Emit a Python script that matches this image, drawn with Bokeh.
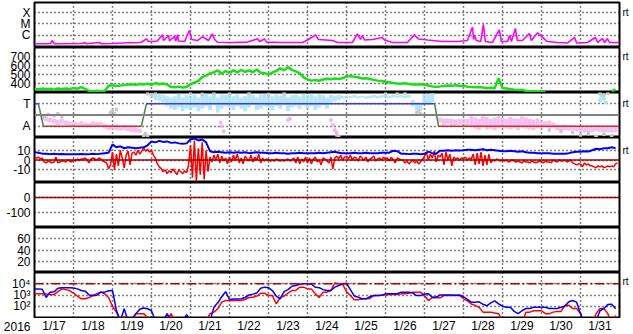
import numpy as np
from bokeh.plotting import figure
from bokeh.layouts import column
from bokeh.models import Range1d, FixedTicker, Span, LinearAxis, LogAxis
from bokeh.core.properties import value
from bokeh.embed import file_html
from bokeh.resources import INLINE

nan = float("nan")

# ---------------- axes / labels ----------------
DAY_LABELS = ["1/17", "1/18", "1/19", "1/20", "1/21", "1/22", "1/23", "1/24",
              "1/25", "1/26", "1/27", "1/28", "1/29", "1/30", "1/31"]
DAY_CENTERS = [0.5, 1.5, 2.5, 3.5, 4.5, 5.5, 6.5, 7.5, 8.5, 9.5, 10.5, 11.5, 12.5, 13.5, 14.5]
DAY_BOUNDS = [1, 2, 3, 4, 5, 6, 7, 8, 9, 10, 11, 12, 13, 14]
YEAR_LABEL = "2016"

XRAY_TICKS = [1e-6, 1e-5, 1e-4]
XRAY_LABELS = ["C", "M", "X"]
SPEED_TICKS = [400, 500, 600, 700]
SPEED_LABELS = ["400", "500", "600", "700"]
SECTOR_TICKS = [90, 270]
SECTOR_LABELS = ["A", "T"]
BZ_TICKS = [-10, 0, 10]
BZ_LABELS = ["-10", "0", "10"]
DST_TICKS = [-100, 0]
DST_LABELS = ["-100", "0"]
KP_TICKS = [20, 40, 60]
KP_LABELS = ["20", "40", "60"]
FLUX_TICKS = [100, 1000, 10000]
FLUX_LABELS = ["10\u00b2", "10\u00b3", "10\u2074"]
RT_TEXT = "rt"

# ---------------- data (time in days since 2016-01-17 00:00) ----------------
xray_t = [0, 0.33, 0.41, 0.46, 0.51, 1.23, 1.28, 1.33, 1.67, 1.72, 2.0, 2.26, 2.72, 2.79, 2.87,
          2.92, 3.03, 3.15, 3.28, 3.31, 3.44, 3.46, 3.59, 3.62, 3.67, 3.69, 3.85, 3.97, 4.03, 4.18,
          4.31, 4.38, 4.46, 4.56, 4.62, 4.69, 5.08, 5.46, 5.72, 5.77, 5.90, 5.95, 6.36, 6.87, 7.0,
          7.21, 7.28, 7.64, 7.77, 8.15, 8.28, 8.36, 8.41, 8.46, 8.67, 8.92, 8.97, 9.18, 9.56, 9.74,
          9.85, 10.08, 10.46, 10.85, 11.10, 11.23, 11.26, 11.28, 11.33, 11.44, 11.51, 11.56, 11.74,
          11.92, 11.97, 12.13, 12.18, 12.23, 12.33, 12.38, 12.51, 12.69, 12.74, 12.90, 13.03, 13.15,
          13.41, 13.67, 13.85, 13.90, 14.18, 14.38, 14.44, 14.56, 14.62, 14.69, 14.74, 15.0]
xray_flux = [1.7e-7, 1.7e-7, 1.8e-7, 3.3e-7, 1.7e-7, 1.8e-7, 2.2e-7, 1.7e-7, 2.2e-7, 1.7e-7,
             1.8e-7, 2.0e-7, 2.2e-7, 3.0e-7, 4.7e-7, 2.7e-7, 2.7e-7, 3.0e-7, 1.1e-6, 3.3e-7,
             9.3e-7, 3.0e-7, 8.0e-7, 3.0e-7, 1.1e-6, 3.0e-7, 2.7e-7, 2.6e-6, 4.1e-7, 3.3e-7,
             7.5e-7, 5.0e-7, 3.3e-7, 1.3e-6, 4.1e-7, 2.3e-7, 2.2e-7, 2.4e-7, 4.7e-7, 2.7e-7,
             4.5e-7, 2.4e-7, 2.2e-7, 2.2e-7, 3.7e-7, 1.05e-6, 4.1e-7, 3.3e-7, 2.2e-7, 2.2e-7,
             1.3e-6, 4.1e-7, 9.3e-7, 3.7e-7, 4.1e-7, 6.2e-7, 3.7e-7, 2.2e-7, 2.2e-7, 1.05e-6,
             4.5e-7, 3.7e-7, 2.7e-7, 2.7e-7, 3.3e-7, 5.3e-6, 4.1e-7, 9.3e-7, 3.3e-7, 2.7e-7,
             9.0e-6, 2.7e-7, 2.2e-7, 3.0e-6, 2.7e-7, 2.7e-7, 9.3e-7, 2.7e-7, 3.8e-6, 3.3e-7,
             3.3e-7, 1.4e-6, 3.3e-7, 1.6e-6, 6.2e-7, 2.7e-7, 2.2e-7, 2.0e-7, 6.2e-7, 2.0e-7,
             2.2e-7, 6.2e-7, 2.2e-7, 5.0e-7, 2.2e-7, 5.0e-7, 2.2e-7, 2.2e-7]

# solar wind speed, km/s, one value every 0.1 day
speed = [340, 335, 345, 338, 342, 330, 345, 340, 345, 338,
         350, 342, 360, 340, 318, 315, 320, 312, 318, 375,
         380, 372, 378, 382, 388, 392, 385, 395, 390, 398,
         385, 405, 392, 400, 388, 362, 358, 365, 355, 362,
         390, 412, 428, 470, 488, 512, 525, 545, 508, 538,
         518, 548, 522, 552, 530, 545, 525, 555, 520, 515,
         500, 522, 540, 568, 548, 582, 552, 535, 515, 468,
         445, 432, 438, 430, 445, 452, 448, 455, 450, 458,
         478, 482, 475, 470, 455, 458, 450, 440, 432, 428,
         420, 415, 405, 400, 398, 402, 395, 390, 388, 392,
         385, 378, 368, 365, 368, 372, 378, 375, 380, 372,
         376, 365, 360, 358, 362, 355, 350, 352, 348, 460,
         350, 345, 338, 332, 328, 330, 318, 315, 316, 312,
         310, 308, nan, nan, nan, nan, nan, nan, nan, nan,
         nan, nan, nan, nan, nan, nan, nan, nan, 315, 335]

# IMF sector: T (toward) = 270 deg, A (away) = 90 deg
sector_t = [0, 0.10, 0.23, 2.74, 2.87, 10.26, 10.36, 15.0]
sector_phi = [270, 270, 90, 90, 270, 270, 90, 90]

# IMF phi angle spread (deg), one low/high pair every 0.1 day
phi_lo = [nan, nan, 140, 130, 120, 110, 100, 110, 100, 95,
          90, 85, 95, 88, 80, 90, 85, 95, 70, 60,
          65, 60, 55, 60, 50, 45, 40, 35, nan, nan,
          320, 300, 290, 280, 250, 230, 220, 240, 210, 230,
          220, 240, 210, 230, 250, 220, 260, 200, 230, 250,
          240, 220, 250, 230, 210, 240, 260, 220, 230, 250,
          240, 220, 250, 230, 260, 210, 240, 250, 230, 260,
          230, 250, 220, 240, 260, 230, 280, 290, 300, 310,
          310, 315, 320, 315, 320, 310, 315, 320, 315, 320,
          320, 315, 320, 318, 320, 315, 320, 250, 220, 215,
          270, 260, 280, nan, 120, 100, 110, 95, 100, 105,
          100, 95, 90, 70, 60, 80, 65, 70, 60, 75,
          80, 70, 65, 75, 60, 80, 70, 65, 60, 75,
          72, 80, 75, 72, 60, 56, 60, 55, 56, 50,
          45, 40, 45, 40, 50, 45, 40, 45, 40, 45]
phi_hi = [nan, nan, 170, 165, 160, 150, 140, 150, 136, 130,
          125, 120, 130, 118, 115, 128, 120, 125, 110, 100,
          100, 105, 95, 100, 90, 85, 80, 70, nan, nan,
          355, 350, 345, 340, 330, 320, 330, 350, 320, 340,
          330, 345, 320, 340, 350, 330, 350, 320, 345, 340,
          350, 330, 345, 320, 330, 350, 340, 320, 345, 350,
          340, 330, 345, 335, 350, 320, 340, 345, 330, 350,
          340, 350, 330, 345, 340, 320, 340, 335, 340, 335,
          335, 335, 340, 330, 335, 330, 335, 340, 335, 338,
          340, 335, 345, 335, 340, 336, 340, 300, 280, 270,
          350, 345, 355, nan, 160, 150, 155, 150, 145, 150,
          150, 148, 170, 160, 150, 176, 165, 150, 160, 170,
          160, 150, 165, 155, 150, 170, 160, 150, 145, 155,
          136, 130, 136, 120, 104, 100, 104, 100, 96, 95,
          96, 90, 85, 90, 96, 88, 85, 90, 88, 92]
phi_gray_t = [0.25, 0.35, 0.5, 0.6, 0.7, 1.95, 2.0, 2.05, 2.1, 2.8, 2.85, 2.9, 2.9, 3.0, 3.1,
              4.0, 4.3, 4.6, 5.0, 5.5, 6.0, 6.4, 7.75, 7.8, 9.0, 9.3, 9.5, 9.8, 9.85, 9.9,
              13.2, 13.5, 13.8, 14.0, 14.2, 14.4, 14.6, 14.8, 14.5, 14.6, 14.7]
phi_gray = [170, 185, 175, 190, 168, 200, 215, 190, 225, 15, 30, 8, 350, 345, 356,
            352, 348, 356, 350, 354, 346, 352, 20, 10, 350, 352, 356, 200, 210, 190,
            60, 50, 40, 20, 30, 10, 25, 15, 350, 340, 355]
phi_pink_t = [4.77, 4.8, 4.85, 6.5, 6.55, 7.6, 7.65, 7.7, 7.75]
phi_pink = [120, 90, 50, 140, 150, 140, 100, 60, 40]
phi_blue_t = [14.5, 14.55, 14.6, 14.65]
phi_blue = [300, 330, 310, 280]

# IMF Bz (nT), one value every 0.05 day
bz = [3, 2, 3, 1, 2, -2, -3, -1, -2, -3, -2, 3, -3, -2, -1, -1, -2, 0, -1, -2,
      0, -1, 1, 0, 1, 1, 2, 0, -3, 1, 2, 1, 0, 2, 1, -1, -2, -3, -9, -5,
      8, -10, 6, -6, 10, 2, -8, 5, 9, -5, 7, 8, 5, 10, 6, 9, 12, 9, 11, 8,
      10, 5, 2, -4, -7, -9, -12, -10, -14, -11, -13, -9, -12, -15, -10, -12, -14, -11, -13, -5,
      15, -18, 20, -22, 12, -15, 18, -20, 10, -12, 3, -2, 5, 0, 6, -3, 4, -1, 2, -4,
      3, -2, 5, 0, 6, -3, 2, -4, 4, 1, -1, 5, -2, 3, 0, 6, -3, 2, -1, 1,
      0, -1, 0, -1, 1, 0, -1, 0, -1, 0, 1, -1, 0, 2, -3, 3, -4, 1, -2, 3,
      -3, 2, -4, 1, 3, -2, 0, -5, 2, 1, -1, -3, 3, -9, 2, 4, 1, 5, 0, 3,
      4, 1, 5, 0, 3, 2, -1, 4, 2, 0, 3, -2, 1, 2, 4, -1, 1, 2, 0, 3,
      1, 2, -1, 3, 0, -3, 2, 1, 0, 0, -3, -1, -4, -2, 0, -3, -1, -4, -2, 1,
      4, 8, 0, 6, 2, 9, -2, 5, 3, 7, -5, 8, 0, 6, -6, 3, 1, 2, 0, 2,
      1, 3, 0, 2, 1, 6, -5, 7, -4, 8, -6, 5, -5, 6, -3, 0, -1, 1, 0, -1,
      0, -1, 0, -2, -1, 0, -1, -2, -1, -2, -3, -1, -2, -2, -3, -1, -2, -3, -2, -1,
      -2, -3, -1, -2, -2, -3, 0, -1, -2, 0, -1, -1, 0, -2, -1, 0, -3, -4, -5, -4,
      -4, -7, -3, -5, -4, -6, -6, -7, -8, -6, -7, -6, -8, -7, -6, -7, -6, -7, -4, -3]

# IMF Bt (nT), one value every 0.1 day
bt = [8, 7.5, 6.5, 6.3, 6, 6.5, 6, 6.2, 6, 6,
      6, 6, 6.2, 6, 6, 6.5, 6, 6.5, 7, 7.5,
      16, 13, 14, 12, 13, 12.5, 12, 12.5, 13, 15,
      19, 18, 19.5, 18.5, 19, 17.5, 18, 17, 16.5, 17,
      21, 22, 20, 21, 18, 9, 8, 8.5, 8, 7.5,
      8, 7.5, 8, 7.5, 8, 7, 7.5, 8, 7.5, 7.5,
      7, 7, 7.5, 7, 7, 6.5, 7, 7, 7.5, 7,
      7, 7, 7, 7.5, 7, 7.5, 8, 8.5, 7.5, 7,
      7, 7, 7.5, 7, 7, 7.5, 7, 7, 7, 7.5,
      7.5, 7.5, 9.5, 9, 6.5, 6.5, 6, 6.5, 6.3, 6,
      6.3, 8.5, 7, 6.5, 9.5, 9.5, 10, 9.5, 10, 9.7,
      10, 10.5, 10.5, 10, 10.5, 11, 10, 10.5, 10, 9.5,
      9, 9, 9.5, 9, 8.5, 9, 8, 7.5, 7.5, 7,
      7, 7, 7, 6.5, 6.3, 6.3, 6.5, 7, 8, 8.5,
      8.5, 9, 8.7, 10, 11.5, 11, 12, 12, 13, 12]

# electron flux, one value every 0.1 day (blue and red channels)
flux_blue = [3500, 3500, 3200, 600, 1800, 1900, 4000, 4400, 4500, 4400,
             4200, 3500, 2500, 2200, 1000, 900, 950, 1800, 1800, 2400,
             2500, 45, 5, 60, 5, 8, 22, 55, 70, 60,
             40, 5, 5, 5, 22, 5, 5, 5, 5, 18,
             5, 5, 5, 5, 5, 5, 80, 200, 700, 2000,
             400, 450, 450, 460, 600, 1000, 1200, 1500, 4000, 5000,
             4500, 2500, 800, 450, 2000, 3000, 6000, 7000, 9000, 10000,
             10000, 9000, 5000, 4500, 3000, 2500, 2500, 5000, 7000, 9500,
             11000, 3000, 800, 630, 460, 460, 700, 900, 900, 950,
             1260, 1260, 1260, 1300, 1800, 1800, 1800, 1500, 900, 900,
             1200, 1260, 630, 650, 1000, 1000, 1000, 1000, 950, 1000,
             700, 400, 230, 230, 250, 150, 110, 200, 300, 160,
             100, 80, 80, 35, 22, 40, 63, 63, 80, 80,
             80, 80, 63, 63, 63, 80, 100, 250, 320, 230,
             22, 3, 3, 3, 5, 40, 63, 140, 150, 60]
flux_red = [1260, 1260, 1300, 1200, 1100, 1100, 2000, 3500, 3000, 2500,
            1500, 800, 460, 460, 600, 900, 1300, 1800, 1260, 600,
            100, 30, 5, 12, 5, 5, 22, 22, 22, 10,
            5, 5, 5, 5, 5, 22, 5, 5, 5, 5,
            5, 5, 5, 5, 5, 22, 30, 60, 230, 320,
            320, 320, 330, 330, 400, 600, 630, 800, 1400, 1400,
            900, 900, 160, 600, 800, 1500, 2500, 2500, 5000, 5000,
            3500, 3500, 1260, 600, 1800, 1800, 2500, 12000, 10000, 9000,
            2000, 900, 380, 370, 460, 460, 500, 900, 900, 950,
            1000, 1100, 1100, 1100, 1260, 1300, 1400, 1800, 1800, 1800,
            900, 320, 600, 560, 560, 900, 900, 900, 900, 900,
            460, 300, 160, 120, 80, 30, 30, 30, 25, 22,
            5, 3, 3, 3, 3, 3, 30, 30, 40, 40,
            40, 22, 22, 30, 35, 35, 120, 120, 63, 63,
            22, 3, 3, 3, 22, 63, 63, 22, 3, 15]

STEP_01 = 0.1    # sampling interval, days
STEP_005 = 0.05

t01 = np.arange(len(speed)) * STEP_01
t005 = np.arange(len(bz)) * STEP_005

# ---------------- styling ----------------
FONT = "Liberation Sans"
GRID_DASH = "1 3"
LEFT, RIGHT, FRAME_W = 32, 16, 585
DAYS = 15.0


def plain_axis(ax, size="12px", standoff=4):
    ax.axis_line_color = None
    ax.major_tick_line_color = None
    ax.minor_tick_line_color = None
    ax.major_tick_out = 0
    ax.major_tick_in = 0
    ax.minor_tick_out = 0
    ax.minor_tick_in = 0
    ax.major_label_text_font = FONT
    ax.major_label_text_font_size = size
    ax.major_label_text_color = "black"
    ax.major_label_standoff = standoff


def panel(y0, y1, ticks, labels, log=False, top=False, bottom_pad=0):
    p = figure(frame_width=FRAME_W, frame_height=45,
               x_range=Range1d(0, DAYS), y_range=Range1d(y0, y1),
               y_axis_type="log" if log else "linear",
               x_axis_location=None,
               output_backend="svg", toolbar_location=None,
               min_border_left=LEFT, min_border_right=RIGHT,
               min_border_top=2 if top else 0,
               min_border_bottom=bottom_pad)
    p.outline_line_color = "black"
    p.outline_line_width = 2
    p.outline_line_alpha = 1.0
    p.background_fill_color = "white"
    p.border_fill_color = "white"
    ax = p.yaxis[0]
    ax.ticker = FixedTicker(ticks=ticks)
    ax.major_label_overrides = {t: l for t, l in zip(ticks, labels)}
    plain_axis(ax)
    for g in (p.ygrid, p.xgrid):
        g.grid_line_color = "black"
        g.grid_line_dash = GRID_DASH
        g.grid_line_width = 1.5
    p.ygrid.ticker = FixedTicker(ticks=ticks)
    p.xgrid.ticker = FixedTicker(ticks=DAY_BOUNDS)
    return p


def rt(p, y, log=False):
    cls = LogAxis if log else LinearAxis
    ax = cls(ticker=FixedTicker(ticks=[y]), major_label_overrides={y: RT_TEXT})
    plain_axis(ax, size="10px", standoff=3)
    p.add_layout(ax, "right")


# 1: X-ray
p1 = panel(10 ** -7.1, 10 ** -3.1, XRAY_TICKS, XRAY_LABELS, log=True, top=True)
p1.line(xray_t, xray_flux, line_color="#ff00ff", line_width=1.6)
rt(p1, 1e-4, log=True)

# 2: solar wind speed
p2 = panel(300, 800, SPEED_TICKS, SPEED_LABELS)
p2.line(t01, speed, line_color="#18e018", line_width=2.5)
rt(p2, 700)

# 3: IMF sector
p3 = panel(0, 360, SECTOR_TICKS, SECTOR_LABELS)
lo = np.array(phi_lo, dtype=float)
hi = np.array(phi_hi, dtype=float)
mid = (lo + hi) / 2
cloud_col = ["#a8e2f4" if m > 180 else "#f2b4ee" for m in mid]
p3.segment(t01, lo, t01, hi, line_color=cloud_col, line_width=3.9, line_alpha=0.85)
p3.scatter(phi_gray_t, phi_gray, marker="square", size=2.5, color="#c8c8c8")
p3.scatter(phi_pink_t, phi_pink, marker="square", size=2.5, color="#f2b4ee")
p3.scatter(phi_blue_t, phi_blue, marker="square", size=2.5, color="#a8e2f4")
p3.add_layout(Span(location=180, dimension="width", line_color="#808080", line_width=2))
seg_col = []
for a, b in zip(sector_phi[:-1], sector_phi[1:]):
    if a == b == 270:
        seg_col.append("#3c3cdc")
    elif a == b == 90:
        seg_col.append("#c83232")
    else:
        seg_col.append("#4a8a4a")
p3.segment(sector_t[:-1], sector_phi[:-1], sector_t[1:], sector_phi[1:],
           line_color=seg_col, line_width=1.5)
rt(p3, 270)

# 4: IMF Bt / Bz
p4 = panel(-23, 23, BZ_TICKS, BZ_LABELS)
p4.line(t005, bz, line_color="#ff0000", line_width=1.5)
p4.line(t01, bt, line_color="#0000ff", line_width=2)
p4.add_layout(Span(location=0, dimension="width", line_color="#a00000", line_width=1.5))
rt(p4, 10)

# 5: Dst
p5 = panel(-200, 100, DST_TICKS, DST_LABELS)
p5.add_layout(Span(location=0, dimension="width", line_color="#a00000", line_width=1.5))

# 6
p6 = panel(0, 80, KP_TICKS, KP_LABELS)

# 7: electron flux
p7 = panel(10, 1e5, FLUX_TICKS, FLUX_LABELS, log=True, bottom_pad=1)
p7.line(t01, flux_red, line_color="#ff0000", line_width=1.5)
p7.line(t01, flux_blue, line_color="#0000ff", line_width=1.5)
p7.add_layout(Span(location=1e4, dimension="width", line_color="#b00000",
                   line_width=1.5, line_dash="9 3 2 3"))
rt(p7, 1.6e4, log=True)

# date strip: year as the left tick label, day names centred in each day
STRIP_H = 16
LABEL_Y = 8.5
strip = figure(frame_width=FRAME_W, frame_height=STRIP_H,
               x_range=Range1d(0, DAYS), y_range=Range1d(0, STRIP_H),
               x_axis_location=None, y_axis_location="left",
               output_backend="svg", toolbar_location=None,
               min_border_left=LEFT, min_border_right=RIGHT,
               min_border_top=0, min_border_bottom=0)
strip.outline_line_color = None
strip.xgrid.visible = False
strip.ygrid.visible = False
strip.border_fill_color = "white"
strip.background_fill_color = "white"
ya = strip.yaxis[0]
ya.ticker = FixedTicker(ticks=[LABEL_Y])
ya.major_label_overrides = {LABEL_Y: YEAR_LABEL}
plain_axis(ya)
strip.text(x=DAY_CENTERS, y=[LABEL_Y] * len(DAY_CENTERS), text=DAY_LABELS,
           text_font=value(FONT), text_font_size="12px", text_color="black",
           text_align="center", text_baseline="middle")

layout = column(p1, p2, p3, p4, p5, p6, p7, strip, spacing=0)
open("out.html", "w").write(file_html(layout, INLINE, title="space weather"))
